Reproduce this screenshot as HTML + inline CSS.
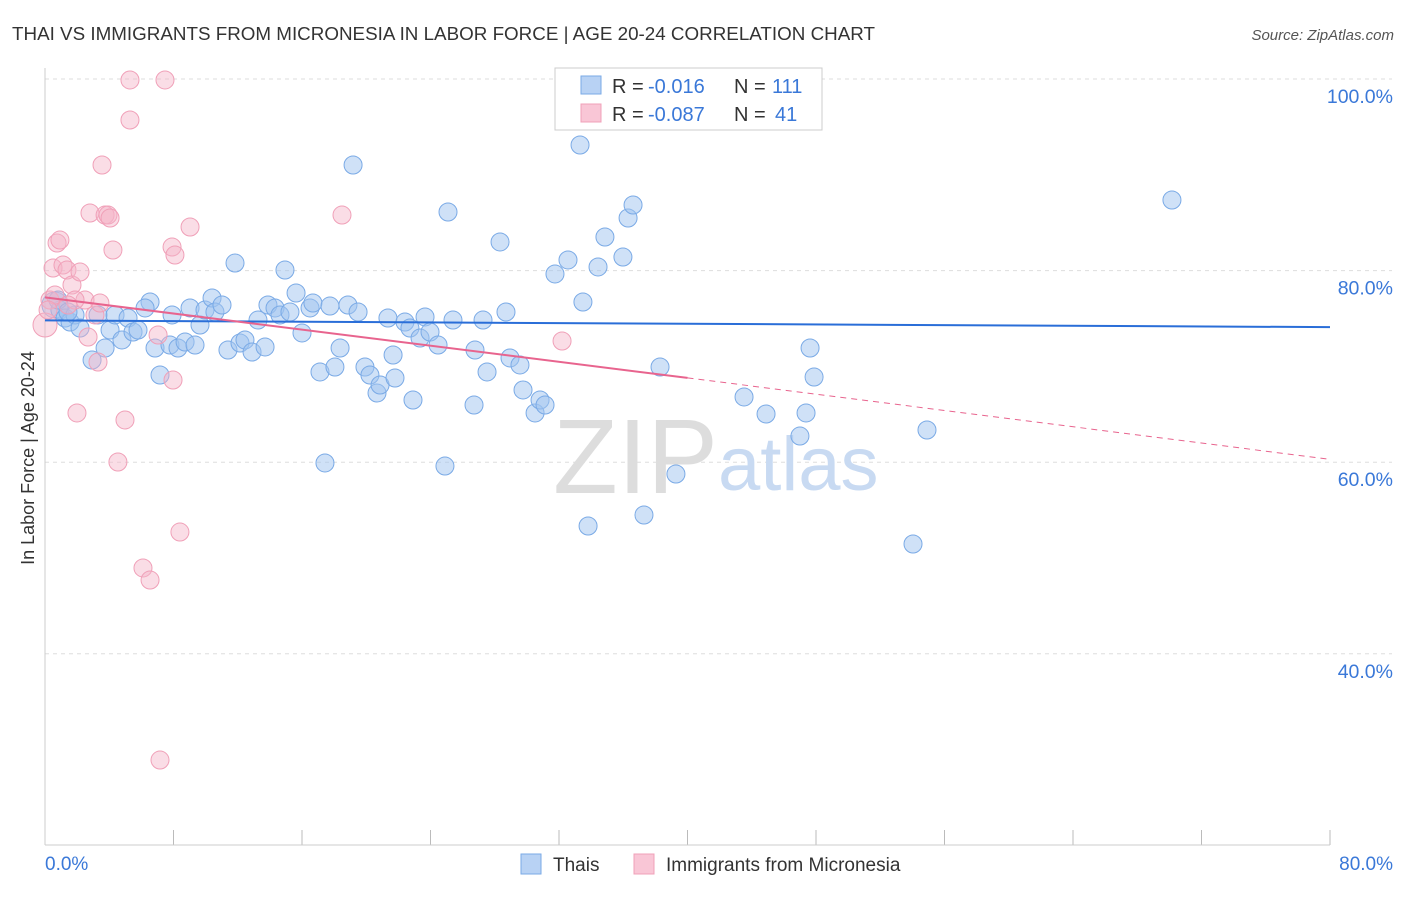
<!DOCTYPE html>
<html><head><meta charset="utf-8"><style>
body{margin:0;background:#fff;font-family:"Liberation Sans",sans-serif;}
svg text{font-family:"Liberation Sans",sans-serif;}
</style></head><body>
<svg id="chart" width="1406" height="892" xmlns="http://www.w3.org/2000/svg">
<text x="12" y="40" font-size="18" fill="#333" textLength="863" lengthAdjust="spacingAndGlyphs">THAI VS IMMIGRANTS FROM MICRONESIA IN LABOR FORCE | AGE 20-24 CORRELATION CHART</text>
<text x="1394" y="40" font-size="15" fill="#555" text-anchor="end" font-style="italic">Source: ZipAtlas.com</text>
<text x="34" y="458" font-size="18" fill="#333" text-anchor="middle" transform="rotate(-90 34 458)">In Labor Force | Age 20-24</text>
<g id="grid"></g>
<line x1="45" y1="68" x2="45" y2="845" stroke="#ccc"/>
<line x1="45" y1="845" x2="1330" y2="845" stroke="#ccc"/>
<text x="553" y="493" font-size="106" fill="#ddd" font-family="Liberation Serif">ZIP</text>
<text x="718" y="490" font-size="76" fill="#c8daf2">atlas</text>
<g id="pts"></g>
<g id="lines"></g>
<g>
<rect x="555" y="68" width="267" height="62" fill="#fff" stroke="#ccc"/>
<rect x="581" y="76" width="20" height="18" fill="#b8d2f4" stroke="#7aaae6"/>
<rect x="581" y="104" width="20" height="18" fill="#f9c6d6" stroke="#f0a0b8"/>
<text x="612" y="93" font-size="20" fill="#333">R =</text>
<text x="648" y="93" font-size="20" fill="#3a78d8">-0.016</text>
<text x="734" y="93" font-size="20" fill="#333">N =</text>
<text x="772" y="93" font-size="20" fill="#3a78d8">111</text>
<text x="612" y="121" font-size="20" fill="#333">R =</text>
<text x="648" y="121" font-size="20" fill="#3a78d8">-0.087</text>
<text x="734" y="121" font-size="20" fill="#333">N =</text>
<text x="775" y="121" font-size="20" fill="#3a78d8">41</text>
</g>
<g>
<rect x="521" y="854" width="20" height="20" fill="#b8d2f4" stroke="#7aaae6"/>
<text x="553" y="871" font-size="19" fill="#333">Thais</text>
<rect x="634" y="854" width="20" height="20" fill="#f9c6d6" stroke="#f0a0b8"/>
<text x="666" y="871" font-size="19" fill="#333">Immigrants from Micronesia</text>
</g>
<text x="45" y="870" font-size="19" fill="#3a78d8">0.0%</text>
<text x="1393" y="870" font-size="19" fill="#3a78d8" text-anchor="end">80.0%</text>
</svg>
<script>
const yTicks=[100,80,60,40];
const xTickVals=[8,16,24,32,40,48,56,64,72,80];
const bluePx=[[55,305],[60,310],[65,318],[70,322],[75,315],[80,328],[92,360],[98,315],[105,348],[110,330],[115,315],[122,340],[128,318],[133,332],[138,330],[150,302],[145,308],[155,348],[160,375],[170,345],[172,315],[178,348],[185,342],[190,308],[195,345],[200,325],[205,310],[212,298],[215,312],[222,305],[228,350],[235,263],[240,343],[245,340],[252,352],[258,320],[265,347],[268,305],[275,308],[280,315],[285,270],[290,312],[296,293],[302,333],[310,308],[313,303],[320,372],[325,463],[330,306],[335,367],[340,348],[348,305],[353,165],[358,312],[365,367],[370,375],[377,393],[380,385],[388,318],[393,355],[395,378],[405,322],[410,328],[413,400],[420,338],[425,317],[430,332],[438,345],[445,466],[448,212],[453,320],[475,350],[474,405],[483,320],[487,372],[500,242],[506,312],[510,358],[520,365],[523,390],[535,413],[540,400],[545,405],[555,274],[568,260],[573,80],[580,145],[583,302],[588,526],[598,267],[605,237],[623,257],[628,218],[633,205],[644,515],[660,367],[676,474],[680,80],[713,80],[744,397],[766,414],[800,436],[806,413],[810,348],[814,377],[913,544],[927,430],[1172,200],[58,300],[68,312]];
const pinkPx=[[45,325],[50,300],[53,268],[57,243],[60,240],[63,265],[67,270],[72,285],[77,413],[80,272],[85,300],[88,337],[90,213],[95,315],[98,362],[102,165],[105,215],[108,215],[110,218],[113,250],[118,462],[125,420],[130,80],[130,120],[143,568],[150,580],[158,335],[160,760],[165,80],[172,247],[175,255],[173,380],[180,532],[190,227],[342,215],[562,341],[55,295],[75,300],[68,305],[100,303],[48,310]];
const toX=p=>(p-45)/16.0625, toY=p=>100-(p-79)/9.58;
const blueX=bluePx.map(p=>+toX(p[0]).toFixed(2)), blueY=bluePx.map(p=>+toY(p[1]).toFixed(2));
const pinkX=pinkPx.map(p=>+toX(p[0]).toFixed(2)), pinkY=pinkPx.map(p=>+toY(p[1]).toFixed(2));
const blueTrend=[74.8,74.1];
const pinkTrend=[77.2,68.8,60.3];
const sx=v=>45+v*16.0625, sy=v=>79+(100-v)*9.58;
const NS="http://www.w3.org/2000/svg";
function mk(t,a,parent){const e=document.createElementNS(NS,t);for(const k in a)e.setAttribute(k,a[k]);parent.appendChild(e);return e;}
const grid=document.getElementById('grid');
yTicks.forEach(v=>{
 const l=mk('line',{x1:45,x2:1392,y1:sy(v),y2:sy(v),stroke:'#ddd','stroke-dasharray':'4,4'},grid);
 
 
 const t=mk('text',{x:1393,y:sy(v)+24,'font-size':19.5,fill:'#3a78d8','text-anchor':'end'},grid);
 t.textContent=v.toFixed(1)+'%';
 
 
});
xTickVals.forEach(v=>{
 const l=mk('line',{x1:sx(v),x2:sx(v),y1:830,y2:845,stroke:'#bbb'},grid);
 
 
});
const pts=document.getElementById('pts');
blueX.forEach((x,i)=>{
 const c=mk('circle',{cx:sx(x),cy:sy(blueY[i]),r:i===0?13:9,fill:'rgba(160,196,240,0.5)',stroke:'#7aaae6','stroke-width':1},pts);
 
 
});
pinkX.forEach((x,i)=>{
 const c=mk('circle',{cx:sx(x),cy:sy(pinkY[i]),r:i===0?12:9,fill:'rgba(245,180,200,0.45)',stroke:'#f0a0b8','stroke-width':1},pts);
 
 
});
const lines=document.getElementById('lines');
const bl=mk('line',{x1:sx(0),y1:sy(blueTrend[0]),x2:sx(80),y2:sy(blueTrend[1]),stroke:'#2a6ed8','stroke-width':2},lines);


const pl=mk('line',{x1:sx(0),y1:sy(pinkTrend[0]),x2:sx(40),y2:sy(pinkTrend[1]),stroke:'#e8648e','stroke-width':2},lines);


const pd=mk('line',{x1:sx(40),y1:sy(pinkTrend[1]),x2:sx(80),y2:sy(pinkTrend[2]),stroke:'#e8648e','stroke-width':1,'stroke-dasharray':'6,5'},lines);


</script>
</body></html>
